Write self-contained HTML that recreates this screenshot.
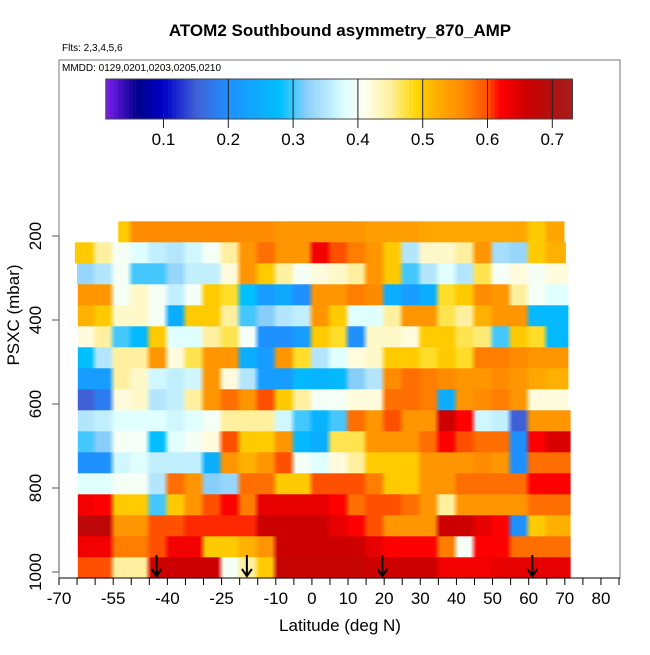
<!DOCTYPE html>
<html><head><meta charset="utf-8">
<style>
body{margin:0;background:#fff;}
svg text{font-family:"Liberation Sans",Arial,sans-serif;}
</style></head>
<body>
<svg id="chart" width="650" height="650" viewBox="0 0 650 650" xmlns="http://www.w3.org/2000/svg">
<defs id="defs"></defs>
<rect width="650" height="650" fill="#fff"/>
<text x="340" y="36" font-size="17" font-weight="bold" text-anchor="middle">ATOM2 Southbound asymmetry_870_AMP</text>
<text x="62" y="51" font-size="10">Flts: 2,3,4,5,6</text>
<rect x="59" y="60" width="561" height="518" fill="none" stroke="#777" stroke-width="1"/>
<text x="62" y="71" font-size="10">MMDD: 0129,0201,0203,0205,0210</text>
<g id="cbar"></g>
<g id="heat"></g>
<g id="arrows"></g>
<g id="axes"></g>
<text x="340" y="631" font-size="17" text-anchor="middle">Latitude (deg N)</text>
<text transform="translate(19,315) rotate(-90)" font-size="17" text-anchor="middle">PSXC (mbar)</text>
</svg>
<script>
const binEdgeStart = -65, binWidth = 5;
const rowCenters = [190,240,290,340,390,440,490,540,590,640,690,740,790,840,890,940,990];
const rowStart = [-53.6,-65.6,-65,-64.8,-64.8,-64.8,-64.8,-64.8,-64.8,-64.8,-64.8,-64.8,-64.8,-64.8,-64.8,-64.8,-64.8];
const rowEnd = [69.9,70.3,71,71,71,71,71,71,71,71.6,71.6,71.6,71.6,71.6,71.6,71.6,71.6];
const values = [
[0.52,0.52,0.5,0.56,0.56,0.56,0.56,0.56,0.56,0.56,0.56,0.55,0.55,0.55,0.55,0.55,0.54,0.54,0.54,0.53,0.53,0.53,0.53,0.53,0.53,0.5,0.53],
[0.5,0.45,0.4,0.38,0.36,0.35,0.37,0.4,0.45,0.55,0.58,0.55,0.55,0.63,0.6,0.57,0.55,0.5,0.35,0.43,0.43,0.45,0.55,0.34,0.33,0.5,0.52],
[0.33,0.35,0.4,0.3,0.3,0.33,0.36,0.36,0.42,0.55,0.5,0.45,0.4,0.42,0.43,0.45,0.55,0.5,0.3,0.35,0.38,0.35,0.47,0.4,0.42,0.4,0.42],
[0.55,0.55,0.4,0.43,0.4,0.36,0.4,0.5,0.48,0.28,0.22,0.24,0.2,0.55,0.55,0.57,0.56,0.25,0.22,0.25,0.48,0.5,0.56,0.55,0.45,0.4,0.38],
[0.52,0.5,0.43,0.43,0.4,0.25,0.5,0.5,0.45,0.3,0.32,0.35,0.36,0.55,0.5,0.38,0.38,0.45,0.55,0.55,0.47,0.45,0.52,0.55,0.55,0.27,0.27],
[0.42,0.45,0.3,0.27,0.5,0.38,0.38,0.45,0.47,0.4,0.2,0.2,0.22,0.5,0.48,0.2,0.43,0.43,0.42,0.5,0.5,0.47,0.46,0.3,0.5,0.48,0.27],
[0.28,0.35,0.45,0.45,0.55,0.42,0.47,0.55,0.55,0.25,0.22,0.55,0.48,0.35,0.38,0.42,0.43,0.5,0.5,0.48,0.5,0.48,0.57,0.57,0.56,0.55,0.55],
[0.22,0.22,0.45,0.43,0.37,0.36,0.37,0.55,0.42,0.35,0.22,0.22,0.27,0.26,0.27,0.32,0.35,0.56,0.58,0.57,0.56,0.55,0.55,0.56,0.55,0.53,0.52],
[0.15,0.18,0.42,0.43,0.35,0.36,0.45,0.55,0.58,0.55,0.6,0.5,0.45,0.4,0.4,0.42,0.42,0.58,0.58,0.57,0.25,0.55,0.56,0.57,0.55,0.42,0.42],
[0.35,0.36,0.38,0.38,0.38,0.37,0.38,0.4,0.45,0.45,0.45,0.37,0.3,0.26,0.3,0.58,0.55,0.6,0.55,0.55,0.66,0.62,0.37,0.36,0.15,0.55,0.55],
[0.3,0.32,0.4,0.4,0.28,0.38,0.4,0.42,0.6,0.5,0.5,0.55,0.27,0.25,0.47,0.47,0.55,0.55,0.55,0.58,0.62,0.6,0.58,0.58,0.2,0.62,0.65],
[0.2,0.2,0.37,0.38,0.36,0.36,0.36,0.25,0.55,0.52,0.55,0.6,0.4,0.38,0.42,0.45,0.5,0.5,0.5,0.55,0.55,0.55,0.56,0.55,0.2,0.58,0.58],
[0.38,0.38,0.4,0.4,0.35,0.58,0.55,0.32,0.33,0.58,0.58,0.5,0.5,0.6,0.6,0.6,0.57,0.5,0.5,0.55,0.55,0.58,0.58,0.58,0.58,0.62,0.62],
[0.63,0.62,0.5,0.5,0.3,0.5,0.55,0.6,0.62,0.57,0.64,0.64,0.64,0.64,0.62,0.58,0.6,0.6,0.58,0.55,0.45,0.55,0.55,0.55,0.55,0.58,0.58],
[0.68,0.68,0.55,0.55,0.6,0.6,0.61,0.61,0.61,0.61,0.66,0.66,0.66,0.66,0.64,0.62,0.6,0.55,0.55,0.55,0.66,0.66,0.64,0.62,0.2,0.5,0.52],
[0.63,0.63,0.57,0.57,0.6,0.63,0.63,0.5,0.5,0.52,0.55,0.66,0.66,0.66,0.66,0.66,0.64,0.62,0.62,0.62,0.57,0.4,0.62,0.62,0.58,0.58,0.58],
[0.6,0.6,0.45,0.45,0.66,0.66,0.66,0.66,0.4,0.45,0.5,0.67,0.67,0.67,0.67,0.67,0.66,0.66,0.66,0.66,0.63,0.63,0.63,0.64,0.64,0.64,0.64]
];
const arrowLats = [-43,-18,19.5,61];
const xTicks = [-70,-55,-40,-25,-10,0,10,20,30,40,50,60,70,80];
const yTicks = [200,400,600,800,1000];
const cbTicks = [0.1,0.2,0.3,0.4,0.5,0.6,0.7];

const NS = "http://www.w3.org/2000/svg";
const xS = lat => 59 + (lat + 70) * 3.613;
const yS = p => 236 + (p - 200) * 0.42;
const cbX = v => 98.7 + v * 648;
const stops = [[0.01,[128,32,240]],[0.06,[0,0,139]],[0.1,[0,0,200]],[0.15,[64,96,216]],[0.2,[30,144,255]],[0.28,[0,191,255]],[0.32,[135,206,250]],[0.38,[224,255,255]],[0.41,[255,255,240]],[0.45,[255,240,160]],[0.49,[255,215,0]],[0.52,[255,176,0]],[0.56,[255,140,0]],[0.6,[255,80,0]],[0.62,[255,0,0]],[0.66,[205,0,0]],[0.7,[176,16,16]],[0.74,[165,32,32]]];
function col(v){
  if(v<=stops[0][0]) return 'rgb('+stops[0][1]+')';
  for(let i=1;i<stops.length;i++){
    if(v<=stops[i][0]){
      const a=stops[i-1],b=stops[i],t=(v-a[0])/(b[0]-a[0]);
      const c=a[1].map((x,k)=>Math.round(x+(b[1][k]-x)*t));
      return 'rgb('+c.join(',')+')';
    }
  }
  return 'rgb('+stops[stops.length-1][1]+')';
}
function mk(tag, attrs, parent){
  const e=document.createElementNS(NS,tag);
  for(const k in attrs) e.setAttribute(k,attrs[k]);
  parent.appendChild(e); return e;
}
const defs=document.getElementById('defs');
// colorbar
const cb=document.getElementById('cbar');
const nSteps=120, v0=0.011, v1=0.731;
for(let i=0;i<nSteps;i++){
  const va=v0+(v1-v0)*i/nSteps, vb=v0+(v1-v0)*(i+1)/nSteps;
  const r=mk('rect',{x:cbX(va),y:79,width:cbX(vb)-cbX(va)+0.6,height:40,fill:col((va+vb)/2)},cb);
  
  
}
const cbf=mk('rect',{x:cbX(v0),y:79,width:cbX(v1)-cbX(v0),height:40,fill:'none',stroke:'#444','stroke-width':1},cb);


cbTicks.forEach(t=>{
  const l=mk('line',{x1:cbX(t),x2:cbX(t),y1:79,y2:128,stroke:'#222','stroke-width':1},cb);
  
  
  const tx=mk('text',{x:cbX(t),y:145,'font-size':17,'text-anchor':'middle'},cb);
  tx.textContent=t.toFixed(1);
  
  
});
// heatmap: one rect per row with a horizontal gradient through bin centres
const hg=document.getElementById('heat');
values.forEach((row,ri)=>{
  const yt=yS(rowCenters[ri]-25), yb=yS(rowCenters[ri]+25);
  const x0=xS(rowStart[ri]), x1=xS(rowEnd[ri]);
  const gid='rowgrad'+ri;
  const lg=mk('linearGradient',{id:gid,gradientUnits:'userSpaceOnUse',x1:x0,x2:x1,y1:0,y2:0},defs);
  row.forEach((v,bi)=>{
    let a=binEdgeStart+bi*binWidth, b=a+binWidth;
    if(bi===row.length-1) b=rowEnd[ri];
    a=Math.max(a,rowStart[ri]); b=Math.min(b,rowEnd[ri]);
    if(b<=a) return;
    const c=col(v);
    const oa=(xS(a)+2-x0)/(x1-x0), ob=(xS(b)-4-x0)/(x1-x0);
    mk('stop',{offset:Math.max(0,Math.min(1,oa)),'stop-color':c},lg);
    mk('stop',{offset:Math.max(0,Math.min(1,ob)),'stop-color':c},lg);
  });
  const r=mk('rect',{x:x0,y:yt,width:x1-x0,height:yb-yt+0.3,fill:'url(#'+gid+')'},hg);
  
  
});
// arrows
const ag=document.getElementById('arrows');
arrowLats.forEach(lat=>{
  const x=xS(lat);
  const g=mk('g',{},ag);
  
  
  mk('line',{x1:x,x2:x,y1:555,y2:576,stroke:'#000','stroke-width':2},g);
  mk('polyline',{points:(x-5)+',569 '+x+',576 '+(x+5)+',569',fill:'none',stroke:'#000','stroke-width':2},g);
});
// axes
const ax=document.getElementById('axes');
const xl=mk('line',{x1:59,x2:620,y1:578,y2:578,stroke:'#000','stroke-width':1},ax);


for(let t=-70;t<=85;t+=5){
  const l=mk('line',{x1:xS(t),x2:xS(t),y1:578,y2:585,stroke:'#000','stroke-width':1},ax);
  
  
}
xTicks.forEach(t=>{
  const tx=mk('text',{x:xS(t),y:604,'font-size':17,'text-anchor':'middle'},ax);
  tx.textContent=t;
  
  
});
const yl=mk('line',{x1:59,x2:59,y1:yS(200),y2:yS(1000),stroke:'#555','stroke-width':1},ax);


yTicks.forEach(t=>{
  const l=mk('line',{x1:52,x2:59,y1:yS(t),y2:yS(t),stroke:'#555','stroke-width':1},ax);
  
  
  const tx=mk('text',{transform:'translate(41,'+yS(t)+') rotate(-90)','font-size':17,'text-anchor':'middle'},ax);
  tx.textContent=t;
  
  
});
</script>
</body></html>
